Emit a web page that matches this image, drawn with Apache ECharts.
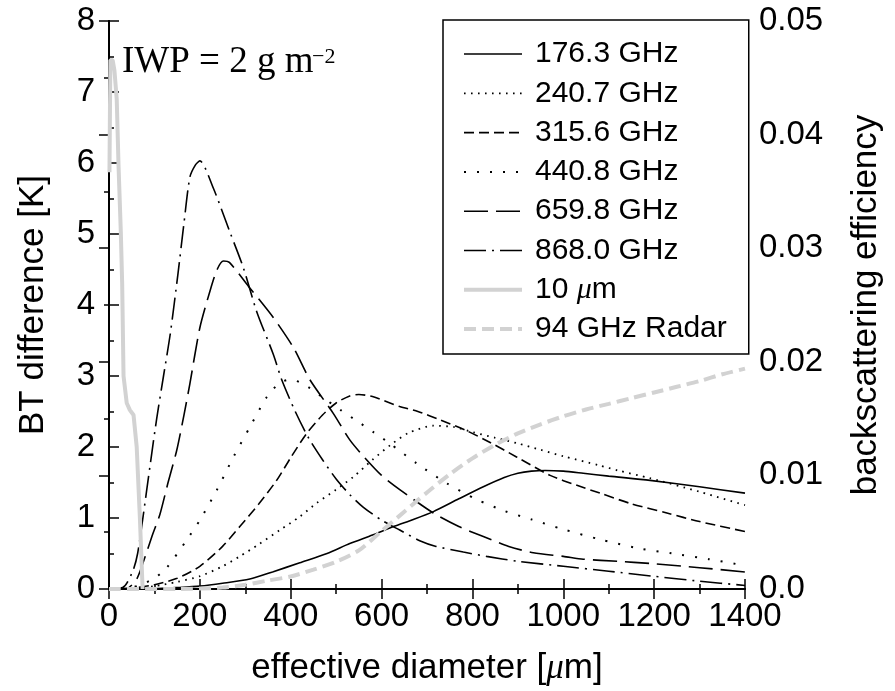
<!DOCTYPE html>
<html><head><meta charset="utf-8">
<script src="https://cdn.jsdelivr.net/npm/echarts@6/dist/echarts.min.js"></script>
<style>html,body{margin:0;padding:0;background:#fff}#c{width:895px;height:691px}</style>
</head><body><div id="c"></div>
<script>
// ---- data (x = effective diameter [um]) ----
const seriesNames = ['176.3 GHz','240.7 GHz','315.6 GHz','440.8 GHz','659.8 GHz','868.0 GHz','10 μm','94 GHz Radar'];
const xTickValues = [0,200,400,600,800,1000,1200,1400];
const leftTickValues = [0,1,2,3,4,5,6,7,8];
const rightTickLabels = ['0.0','0.01','0.02','0.03','0.04','0.05'];

const d176 = [[0,0],[100,0.005],[150,0.02],[200,0.04],[250,0.08],[310,0.14],[360,0.24],[420,0.37],[480,0.5],[530,0.64],[580,0.76],[626,0.88],[670,0.98],[714,1.09],[770,1.27],[824,1.44],[870,1.57],[900,1.63],[930,1.66],[960,1.67],[1000,1.66],[1044,1.63],[1100,1.59],[1191,1.53],[1300,1.44],[1400,1.35]];
const d240 = [[0,0],[50,0.01],[100,0.04],[150,0.1],[200,0.18],[250,0.32],[288,0.46],[330,0.63],[376,0.83],[420,1.02],[457,1.21],[500,1.4],[538,1.58],[580,1.82],[620,2.03],[660,2.2],[714,2.3],[760,2.28],[800,2.21],[850,2.13],[900,2.05],[950,1.96],[1000,1.87],[1080,1.74],[1120,1.67],[1191,1.56],[1300,1.37],[1400,1.18]];
const d315 = [[0,0],[50,0.01],[100,0.06],[150,0.15],[200,0.32],[250,0.6],[288,0.88],[330,1.2],[369,1.53],[400,1.85],[435,2.19],[470,2.45],[500,2.62],[530,2.72],[550,2.74],[580,2.71],[640,2.57],[680,2.5],[730,2.38],[787,2.23],[840,2.06],[897,1.86],[971,1.6],[1030,1.46],[1081,1.35],[1150,1.2],[1228,1.07],[1300,0.95],[1400,0.81]];
const d440 = [[0,0],[50,0.02],[97,0.14],[127,0.3],[171,0.69],[200,0.97],[237,1.39],[274,1.86],[310,2.28],[347,2.7],[375,2.9],[400,2.95],[430,2.88],[470,2.7],[510,2.52],[545,2.37],[582,2.21],[618,2.05],[677,1.77],[743,1.49],[810,1.26],[870,1.1],[930,0.98],[1000,0.84],[1080,0.7],[1160,0.58],[1240,0.5],[1320,0.42],[1400,0.33]];
const d659 = [[0,0],[40,0.01],[61,0.14],[75,0.37],[95,0.75],[112,1.05],[130,1.5],[149,1.95],[165,2.45],[178,2.89],[200,3.68],[222,4.19],[238,4.5],[252,4.62],[265,4.6],[310,4.24],[362,3.82],[406,3.4],[442,2.95],[494,2.47],[530,2.1],[560,1.87],[600,1.6],[640,1.4],[714,1.07],[770,0.88],[824,0.74],[880,0.6],[934,0.51],[1000,0.46],[1044,0.42],[1120,0.39],[1191,0.36],[1300,0.3],[1400,0.24]];
const d868 = [[0,0],[30,0.02],[40,0.09],[54,0.28],[63,0.5],[75,1.02],[90,1.72],[105,2.4],[120,3.0],[135,3.6],[152,4.45],[165,5.15],[178,5.8],[190,5.97],[200,6.03],[230,5.64],[266,5.03],[296,4.52],[325,3.91],[362,3.3],[380,2.95],[410,2.5],[440,2.12],[470,1.82],[500,1.55],[530,1.33],[560,1.15],[600,0.97],[640,0.83],[684,0.68],[720,0.6],[780,0.52],[831,0.46],[900,0.39],[1000,0.32],[1100,0.25],[1198,0.18],[1300,0.11],[1400,0.05]];
const d10um = [[1,5.87],[3,7.45],[8,7.45],[12,7.3],[17,6.9],[21,5.96],[26,5.03],[29,4.3],[32,3.0],[39,2.62],[46,2.52],[54,2.45],[61,2.0],[68,1.0],[74,0]];
const dRadar = [[0,0],[150,0],[250,0.000125],[300,0.000375],[350,0.00075],[400,0.0011],[450,0.0017],[500,0.0024],[550,0.0034],[600,0.0051],[650,0.0068],[700,0.0085],[750,0.0101],[800,0.0115],[850,0.0127],[900,0.0137],[950,0.0145],[1000,0.0152],[1050,0.0158],[1100,0.0163],[1150,0.0168],[1200,0.0173],[1250,0.0178],[1300,0.0183],[1350,0.0189],[1400,0.0194]];

// ---- styling ----
const FONT = 'Liberation Sans, Arial, Helvetica, sans-serif';
const SERIF = 'Liberation Serif, Times New Roman, serif';
const BLACK = '#000';
const GRAY = '#d2d2d2';
const styleFor = {
  '176.3 GHz': {color: BLACK, width: 1.6, type: 'solid'},
  '240.7 GHz': {color: BLACK, width: 1.8, type: [1.6, 5.4]},
  '315.6 GHz': {color: BLACK, width: 1.6, type: [10, 5]},
  '440.8 GHz': {color: BLACK, width: 2, type: [2, 11]},
  '659.8 GHz': {color: BLACK, width: 1.6, type: [24, 8]},
  '868.0 GHz': {color: BLACK, width: 1.6, type: [22, 6, 2, 6]},
  '10 μm': {color: GRAY, width: 4, type: 'solid'},
  '94 GHz Radar': {color: GRAY, width: 4, type: [12, 6]}
};
const dataFor = {
  '176.3 GHz': d176, '240.7 GHz': d240, '315.6 GHz': d315, '440.8 GHz': d440,
  '659.8 GHz': d659, '868.0 GHz': d868, '10 μm': d10um, '94 GHz Radar': dRadar
};

const series = seriesNames.map(n => ({
  name: n,
  type: 'line',
  data: dataFor[n],
  yAxisIndex: n === '94 GHz Radar' ? 1 : 0,
  xAxisIndex: 0,
  showSymbol: false,
  symbol: 'none',
  smooth: n === '10 μm' ? false : 0.25,
  lineStyle: {color: styleFor[n].color, width: styleFor[n].width, type: styleFor[n].type, cap: 'butt'},
  itemStyle: {color: styleFor[n].color},
  z: n === '10 μm' || n === '94 GHz Radar' ? 3 : 2,
  animation: false
}));

const tickStyle = {color: BLACK, width: 1.5};
const axisLineStyle = {color: BLACK, width: 2};
const labelStyle = {color: BLACK, fontSize: 33, fontFamily: FONT};
const titleStyle = {color: BLACK, fontSize: 35, fontFamily: FONT};

const chart = echarts.init(document.getElementById('c'), null, {renderer: 'canvas'});
chart.setOption({
  backgroundColor: '#fff',
  animation: false,
  grid: {left: 109, right: 150, top: 21, bottom: 98, containLabel: false},
  xAxis: [{
    type: 'value', min: xTickValues[0], max: xTickValues[xTickValues.length - 1], interval: 200,
    position: 'bottom',
    name: 'effective diameter [{i|μ}m]', nameLocation: 'middle', nameGap: 62,
    nameTextStyle: Object.assign({rich: {i: {fontStyle: 'italic', fontSize: 35, fontFamily: SERIF, color: BLACK}}}, titleStyle),
    axisLine: {show: true, lineStyle: axisLineStyle},
    axisTick: {show: true, inside: true, length: 10, lineStyle: tickStyle},
    minorTick: {show: true, splitNumber: 2, length: 5, lineStyle: tickStyle},
    axisLabel: Object.assign({margin: 11, formatter: v => String(v)}, labelStyle),
    splitLine: {show: false}
  }, {
    type: 'value', min: 0, max: 1400, interval: 200, position: 'top',
    axisLine: {show: true, lineStyle: axisLineStyle},
    axisTick: {show: true, inside: true, length: 10, lineStyle: tickStyle},
    minorTick: {show: true, splitNumber: 2, length: 5, lineStyle: tickStyle},
    axisLabel: {show: false},
    splitLine: {show: false}
  }],
  yAxis: [{
    type: 'value', min: leftTickValues[0], max: leftTickValues[leftTickValues.length - 1], interval: 1,
    position: 'left',
    name: 'BT difference [K]', nameLocation: 'middle', nameGap: 58, nameRotate: 90,
    nameTextStyle: titleStyle,
    axisLine: {show: true, lineStyle: axisLineStyle},
    axisTick: {show: true, inside: true, length: 10, lineStyle: tickStyle},
    minorTick: {show: true, splitNumber: 2, length: 5, lineStyle: tickStyle},
    axisLabel: Object.assign({margin: 14, formatter: v => String(v)}, labelStyle),
    splitLine: {show: false}
  }, {
    type: 'value', min: 0, max: 0.05, interval: 0.01, position: 'right',
    name: 'backscattering efficiency', nameLocation: 'middle', nameGap: 104, nameRotate: 90,
    nameTextStyle: titleStyle,
    axisLine: {show: true, lineStyle: axisLineStyle},
    axisTick: {show: true, inside: true, length: 10, lineStyle: tickStyle},
    minorTick: {show: true, splitNumber: 2, length: 5, lineStyle: tickStyle},
    axisLabel: Object.assign({margin: 14, formatter: v => rightTickLabels[Math.round(v / 0.01)]}, labelStyle),
    splitLine: {show: false}
  }],
  legend: {
    orient: 'vertical', left: 443, top: 20,
    data: seriesNames,
    itemWidth: 58, itemHeight: 20, itemGap: 9.3,
    padding: [19, 22, 10, 19],
    backgroundColor: '#fff', borderColor: BLACK, borderWidth: 1.5, borderRadius: 0,
    itemStyle: {color: 'rgba(0,0,0,0)', borderWidth: 0, opacity: 0},
    lineStyle: {width: 'inherit', type: 'inherit', color: 'inherit'},
    textStyle: {color: BLACK, fontSize: 30, fontFamily: FONT, lineHeight: 30,
      rich: {
        g: {width: 8, fontSize: 30, lineHeight: 30},
        t: {color: BLACK, fontSize: 30, fontFamily: FONT, lineHeight: 30},
        i: {fontStyle: 'italic', fontSize: 30, fontFamily: SERIF, color: BLACK, lineHeight: 30}
      }},
    formatter: n => n === '10 μm' ? '{g|}{t|10 }{i|μ}{t|m}' : '{g|}{t|' + n + '}',
    selectedMode: false
  },
  graphic: [{
    type: 'text', left: 122, top: 44, z: 10,
    style: {text: 'IWP = 2 g m', fontSize: 37, fontFamily: SERIF, fill: BLACK}
  }, {
    type: 'text', left: 312, top: 46, z: 10,
    style: {text: '−2', fontSize: 22, fontFamily: SERIF, fill: BLACK}
  }],
  series: series
});
</script></body></html>
